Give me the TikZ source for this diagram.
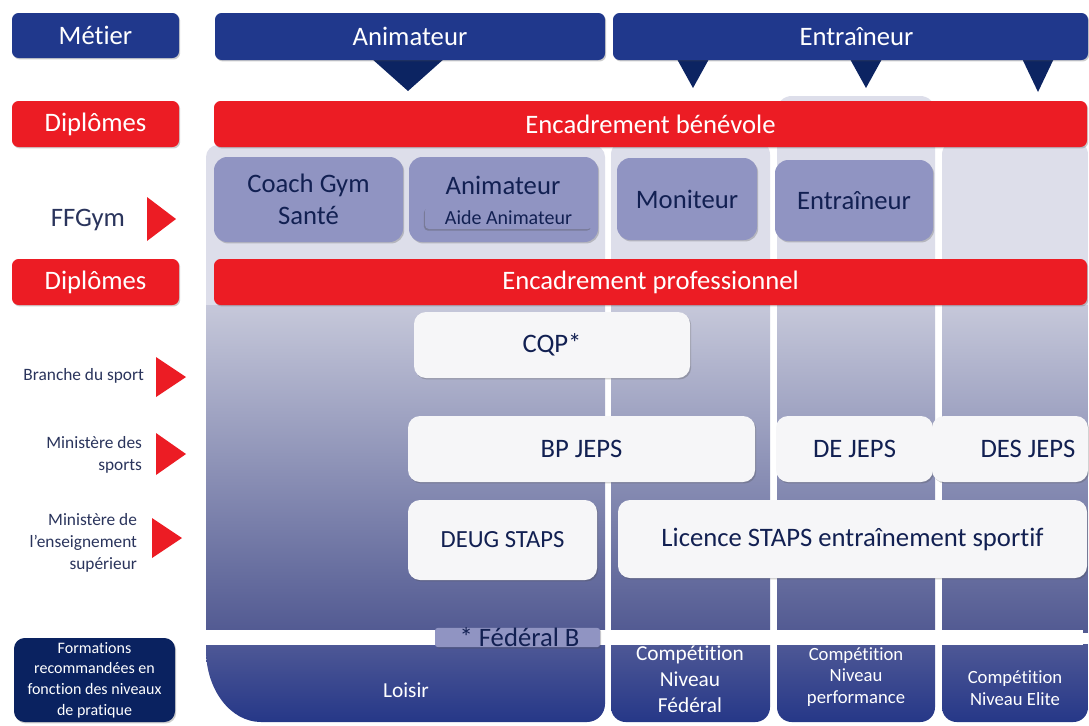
\documentclass[tikz,border=0pt]{standalone}
\usepackage{fontspec}
\setmainfont{Carlito}[Ligatures=NoCommon]
\usetikzlibrary{shadows}
\definecolor{navy}{RGB}{32,56,140}
\definecolor{tri}{RGB}{12,36,98}
\definecolor{rouge}{RGB}{236,28,36}
\definecolor{lav}{RGB}{144,148,194}
\definecolor{ink}{RGB}{18,32,82}
\definecolor{labink}{RGB}{42,52,92}
\definecolor{wbox}{RGB}{246,246,248}
\definecolor{formb}{RGB}{10,34,96}
\definecolor{pantop}{RGB}{221,222,234}
\definecolor{panmid}{RGB}{198,200,218}
\definecolor{panbot}{RGB}{82,90,146}
\definecolor{lowtop}{RGB}{78,88,150}
\definecolor{lowbot}{RGB}{36,54,135}
\newcommand\fbig{\fontsize{20}{23}\selectfont}
\newcommand\fmidl{\fontsize{16}{19}\selectfont}
\newcommand\fsml{\fontsize{14}{16}\selectfont}
\tikzset{
  base/.style={rectangle, inner sep=0pt, outer sep=0pt, align=center},
  sz/.style 2 args={minimum width=#1, minimum height=#2},
  sh/.style={drop shadow={shadow xshift=0.9pt, shadow yshift=-1.1pt, opacity=0.28, fill=black!70}},
  hdr/.style={base, fill=navy, rounded corners=5pt, text=white, font=\fbig, sh},
  redbar/.style={base, fill=rouge, rounded corners=5pt, text=white, font=\fbig, sh},
  lavbox/.style={base, fill=lav, rounded corners=10pt, text=ink, font=\fbig, sh},
  whbox/.style={base, fill=wbox, rounded corners=9pt, text=ink, font=\fbig, sh},
  lab/.style={base, text=labink, align=right, anchor=east, font=\fontsize{13}{16.5}\selectfont},
  coltxt/.style={base, text=white},
  redtri/.style={fill=rouge},
  navtri/.style={fill=tri},
}
\begin{document}
\begin{tikzpicture}[x=0.75pt,y=-0.75pt]
\useasboundingbox (0,0) rectangle (1089,725);
\fill[white] (0,0) rectangle (1089,725);

% ---------- columns ----------
\begin{scope}
\clip (206,157) arc[start angle=180, end angle=270, radius=12] -- (593,145)
  arc[start angle=270, end angle=360, radius=12] -- (605,704)
  arc[start angle=0, end angle=90, radius=18] -- (261,722)
  arc[start angle=90, end angle=180, x radius=55, y radius=72] -- cycle;
\fill[pantop] (200,140) rectangle (610,305);
\shade[top color=panmid, bottom color=panbot] (200,305) rectangle (610,632);
\shade[top color=lowtop, bottom color=lowbot] (200,644) rectangle (610,725);
\end{scope}
\begin{scope}
\clip[rounded corners=11pt] (611,140) rectangle (770,722);
\fill[pantop] (605,90) rectangle (775,305);
\shade[top color=panmid, bottom color=panbot] (605,305) rectangle (775,632);
\shade[top color=lowtop, bottom color=lowbot] (605,644) rectangle (775,725);
\end{scope}
\begin{scope}
\clip[rounded corners=11pt] (777,96) rectangle (935,722);
\fill[pantop] (770,90) rectangle (940,305);
\shade[top color=panmid, bottom color=panbot] (770,305) rectangle (940,632);
\shade[top color=lowtop, bottom color=lowbot] (770,644) rectangle (940,725);
\end{scope}
\begin{scope}
\clip[rounded corners=11pt] (942,140) rectangle (1088,722);
\fill[pantop] (935,90) rectangle (1095,305);
\shade[top color=panmid, bottom color=panbot] (935,305) rectangle (1095,632);
\shade[top color=lowtop, bottom color=lowbot] (935,644) rectangle (1095,725);
\end{scope}
\fill[white] (199,630) rectangle (1083,645);

% ---------- top triangles ----------
\fill[navtri] (362,50) -- (454,50) -- (408,91) -- cycle;
\fill[navtri] (672,50) -- (714,50) -- (693,88) -- cycle;
\fill[navtri] (845,50) -- (887,50) -- (866,88) -- cycle;
\fill[navtri] (1018,50) -- (1058,50) -- (1038,92) -- cycle;

% ---------- header row ----------
\node[hdr, sz={125.25pt}{33.75pt}] (metier) at (95.5,35.5) {Métier};
\node[hdr, sz={292.5pt}{35.25pt}] (hanim) at (410,36.5) {Animateur};
\node[hdr, sz={356.25pt}{35.25pt}] (hentr) at (850.5,36.5) {\hspace*{9pt}Entraîneur};

% ---------- diplomes rows ----------
\node[redbar, sz={125.25pt}{34.5pt}] (dip1) at (95.5,124) {Diplômes};
\node[redbar, sz={654.75pt}{34.5pt}] (benev) at (650.5,124) {Encadrement bénévole};
\node[redbar, sz={125.25pt}{34.5pt}] (dip2) at (95.5,282) {Diplômes};
\node[redbar, sz={654.75pt}{34.5pt}] (pro) at (650.5,282) {Encadrement professionnel};

% ---------- FFGym ----------
\node[lavbox, sz={141.75pt}{63.75pt}, font=\fontsize{20}{23.5}\selectfont] (coach) at (308.5,199.5) {Coach Gym\\Santé};
\node[lavbox, sz={141.75pt}{63.75pt}] (animf) at (503.5,199.5) {};
\node[base, text=ink, font=\fbig] (animft) at (503,185) {Animateur};
\node[base, fill=lav, rounded corners=3pt, text=ink, font=\fontsize{15}{17}\selectfont,
  drop shadow={shadow xshift=-0.8pt, shadow yshift=-1.2pt, opacity=0.35, fill=black!70},
  sz={125.25pt}{16.5pt}] (aide) at (508.5,218) {Aide Animateur};
\node[lavbox, sz={105pt}{61.5pt}] (monit) at (687,199) {Moniteur};
\node[lavbox, sz={118.5pt}{60.75pt}] (entrf) at (854,200.5) {Entraîneur};

% ---------- white boxes ----------
\node[whbox, sz={207pt}{49.5pt}] (cqp) at (552,345) {CQP*};
\node[whbox, sz={260.25pt}{49.5pt}] (bp) at (581.5,449) {BP JEPS};
\node[whbox, sz={117.75pt}{49.5pt}] (de) at (854.5,449) {DE JEPS};
\node[whbox, sz={117pt}{49.5pt}] (des) at (1010,449) {\hspace*{27pt}DES JEPS};
\node[whbox, sz={141.75pt}{60pt}, font=\fontsize{18.5}{21}\selectfont] (deug) at (502.5,540) {DEUG STAPS};
\node[whbox, sz={351.75pt}{58.5pt}] (lic) at (852.5,539) {Licence STAPS entraînement sportif};

% ---------- Federal B ----------
\node[base, fill=lav, rounded corners=2pt, text=ink, font=\fontsize{20}{21}\selectfont, sh,
  sz={123.75pt}{14.25pt}] (fedb) at (517.5,637.5) {\hspace*{3pt}* Fédéral B};

% ---------- left labels ----------
\node[base, text=labink, font=\fbig] (ffgym) at (88,220) {FFGym};
\fill[redtri] (147,197) -- (176,219) -- (147,241) -- cycle;
\node[lab] (branche) at (144,376) {Branche du sport};
\fill[redtri] (156,357) -- (186,377) -- (156,397) -- cycle;
\node[lab] (minsp) at (142,455) {Ministère des\\sports};
\fill[redtri] (156,433) -- (186,454) -- (156,475) -- cycle;
\node[lab] (minens) at (137,543) {Ministère de\\l’enseignement\\supérieur};
\fill[redtri] (152,518) -- (182,538) -- (152,558) -- cycle;

\node[base, fill=formb, rounded corners=8pt, text=white, font=\fontsize{12}{15.5}\selectfont, sh,
  sz={120.75pt}{63pt}] (form) at (94.5,680) {Formations\\recommandées en\\fonction des niveaux\\de pratique};

% ---------- level texts ----------
\node[coltxt, font=\fmidl] (loisir) at (406,690) {Loisir};
\node[coltxt, font=\fontsize{16}{19.5}\selectfont] (cfed) at (690,679) {Compétition\\Niveau\\Fédéral};
\node[coltxt, font=\fsml] (cperf) at (856,677) {Compétition\\Niveau\\performance};
\node[coltxt, font=\fsml] (celite) at (1015,688) {Compétition\\Niveau Elite};
\end{tikzpicture}
\end{document}
